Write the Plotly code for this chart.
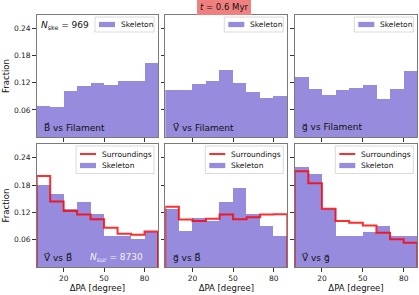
import plotly.graph_objects as go

# ---------------- data ----------------
bin_edges = [0, 10, 20, 30, 40, 50, 60, 70, 80, 90]
x_ticks = [20, 50, 80]
y_ticks = [0.06, 0.12, 0.18, 0.24]
y_tick_labels = ["0.06", "0.12", "0.18", "0.24"]

ske_B_fil = [0.069, 0.066, 0.101, 0.113, 0.119, 0.115, 0.124, 0.125, 0.164]
ske_V_fil = [0.104, 0.103, 0.117, 0.125, 0.149, 0.120, 0.100, 0.086, 0.091]
ske_g_fil = [0.133, 0.106, 0.092, 0.104, 0.108, 0.116, 0.084, 0.107, 0.145]

ske_V_B = [0.180, 0.161, 0.128, 0.143, 0.117, 0.069, 0.067, 0.061, 0.076]
sur_V_B = [0.200, 0.144, 0.123, 0.115, 0.105, 0.086, 0.073, 0.071, 0.078]
ske_g_B = [0.128, 0.078, 0.108, 0.100, 0.143, 0.173, 0.116, 0.089, 0.067]
sur_g_B = [0.132, 0.104, 0.101, 0.106, 0.115, 0.105, 0.109, 0.115, 0.116]
ske_V_g = [0.220, 0.205, 0.128, 0.069, 0.069, 0.077, 0.091, 0.069, 0.069]
sur_V_g = [0.210, 0.184, 0.128, 0.101, 0.097, 0.091, 0.075, 0.061, 0.053]

panel_labels = ["B\u20d7 vs Filament", "V\u20d7 vs Filament", "g\u20d7 vs Filament",
                "V\u20d7 vs B\u20d7", "g\u20d7 vs B\u20d7", "V\u20d7 vs g\u20d7"]
n_ske_text = "<i>N</i><sub>ske</sub> = 969"
n_sur_text = "<i>N</i><sub>sur</sub> = 8730"
title_text = "<i>t</i> = 0.6 Myr"
x_title = "\u0394PA [degree]"
y_title = "Fraction"

skeleton = [ske_B_fil, ske_V_fil, ske_g_fil, ske_V_B, ske_g_B, ske_V_g]
surround = [None, None, None, sur_V_B, sur_g_B, sur_V_g]

# ---------------- layout geometry (pixels) ----------------
W, H = 419, 295
cols = [(36.7, 158.0), (165.3, 287.3), (294.7, 417.3)]
rows = [(15.0, 137.0), (144.0, 267.0)]
FONT = "DejaVu Sans"
FILL = "rgba(106,90,205,0.7)"
RED = "rgba(255,0,0,0.82)"


def px(x):
    return x / W


def py(y):
    return 1 - y / H


fig = go.Figure()
layout = {}
shapes = []
annotations = []

centers = [(bin_edges[i] + bin_edges[i + 1]) / 2 for i in range(len(bin_edges) - 1)]
widths = [bin_edges[i + 1] - bin_edges[i] for i in range(len(bin_edges) - 1)]

for k in range(6):
    r, c = divmod(k, 3)
    idx = "" if k == 0 else str(k + 1)
    xa, ya = "x" + idx, "y" + idx
    x0, x1 = cols[c]
    y0, y1 = rows[r]

    fig.add_trace(go.Bar(x=centers, y=skeleton[k], width=widths, marker_color=FILL,
                         marker_line_width=0, xaxis=xa, yaxis=ya, showlegend=False,
                         name="Skeleton"))
    if surround[k] is not None:
        v = surround[k]
        xs, ys = [bin_edges[0]], [0]
        for i in range(len(v)):
            xs += [bin_edges[i], bin_edges[i + 1]]
            ys += [v[i], v[i]]
        xs.append(bin_edges[-1])
        ys.append(0)
        fig.add_trace(go.Scatter(x=xs, y=ys, mode="lines", line=dict(color=RED, width=2),
                                 xaxis=xa, yaxis=ya, showlegend=False, cliponaxis=False,
                                 name="Surroundings"))

    axcommon = dict(showline=True, mirror=True, linecolor="#7a7a7a", linewidth=1.2,
                    showgrid=False, zeroline=False, ticks="outside", ticklen=3.5,
                    tickwidth=0.8, tickcolor="#333",
                    tickfont=dict(family=FONT, size=7.5, color="#222"))
    layout["xaxis" + idx] = dict(axcommon, domain=[px(x0), px(x1)], range=[0, 90],
                                 tickvals=x_ticks, anchor=ya,
                                 showticklabels=(r == 1))
    layout["yaxis" + idx] = dict(axcommon, domain=[py(y1), py(y0)], range=[0, 0.27],
                                 tickvals=y_ticks, ticktext=y_tick_labels, anchor=xa,
                                 showticklabels=(c == 0))
    if r == 1:
        layout["xaxis" + idx]["title"] = dict(text=x_title, standoff=3,
                                              font=dict(family=FONT, size=8.5, color="#111"))
    if c == 0:
        layout["yaxis" + idx]["title"] = dict(text=y_title, standoff=2,
                                              font=dict(family=FONT, size=8.5, color="#111"))

    # panel label
    annotations.append(dict(x=px(x0 + 5.5), y=py(y1 - 10), xref="paper", yref="paper",
                            text=panel_labels[k], showarrow=False, xanchor="left",
                            yanchor="middle", font=dict(family=FONT, size=9, color="#111")))

    # manual legend
    bx1 = x1 - 4
    by0 = y0 + 2
    if surround[k] is None:
        bx0, by1 = bx1 - 59, by0 + 15
        entries = [("Skeleton", "patch", by0 + 7.5)]
    else:
        bx0, by1 = bx1 - 78, by0 + 27.5
        entries = [("Surroundings", "line", by0 + 8), ("Skeleton", "patch", by0 + 19.5)]
    shapes.append(dict(type="rect", xref="paper", yref="paper", x0=px(bx0), x1=px(bx1),
                       y0=py(by1), y1=py(by0), line=dict(color="#d0d0d0", width=0.8),
                       fillcolor="rgba(255,255,255,0.85)", layer="above"))
    for label, kind, yc in entries:
        hx0, hx1 = bx0 + 4, bx0 + 20
        if kind == "patch":
            shapes.append(dict(type="rect", xref="paper", yref="paper", x0=px(hx0), x1=px(hx1),
                               y0=py(yc + 2.6), y1=py(yc - 2.6), line=dict(width=0),
                               fillcolor=FILL, layer="above"))
        else:
            shapes.append(dict(type="line", xref="paper", yref="paper", x0=px(hx0), x1=px(hx1),
                               y0=py(yc), y1=py(yc), line=dict(color=RED, width=2),
                               layer="above"))
        annotations.append(dict(x=px(hx1 + 4), y=py(yc), xref="paper", yref="paper",
                                text=label, showarrow=False, xanchor="left", yanchor="middle",
                                font=dict(family=FONT, size=7.5, color="#111")))

# N annotations
annotations.append(dict(x=px(cols[0][0] + 2.5), y=py(rows[0][0] + 10), xref="paper", yref="paper",
                        text=n_ske_text, showarrow=False, xanchor="left", yanchor="middle",
                        font=dict(family=FONT, size=9, color="#111")))
annotations.append(dict(x=px(cols[0][1] - 13), y=py(rows[1][1] - 10), xref="paper", yref="paper",
                        text=n_sur_text, showarrow=False, xanchor="right", yanchor="middle",
                        font=dict(family=FONT, size=9, color="rgba(255,255,255,0.92)")))
# title box
annotations.append(dict(x=px(223.5), y=py(-1), xref="paper", yref="paper", text=title_text,
                        showarrow=False, xanchor="center", yanchor="top",
                        bgcolor="#f08080", borderpad=3, borderwidth=0,
                        font=dict(family=FONT, size=8.5, color="#111")))

fig.update_layout(width=W, height=H, margin=dict(l=0, r=0, t=0, b=0),
                  plot_bgcolor="white", paper_bgcolor="white", bargap=0,
                  shapes=shapes, annotations=annotations, showlegend=False, **layout)

fig.write_html("out.html", config={"displayModeBar": False},
               post_script="document.body.style.margin='0';")
